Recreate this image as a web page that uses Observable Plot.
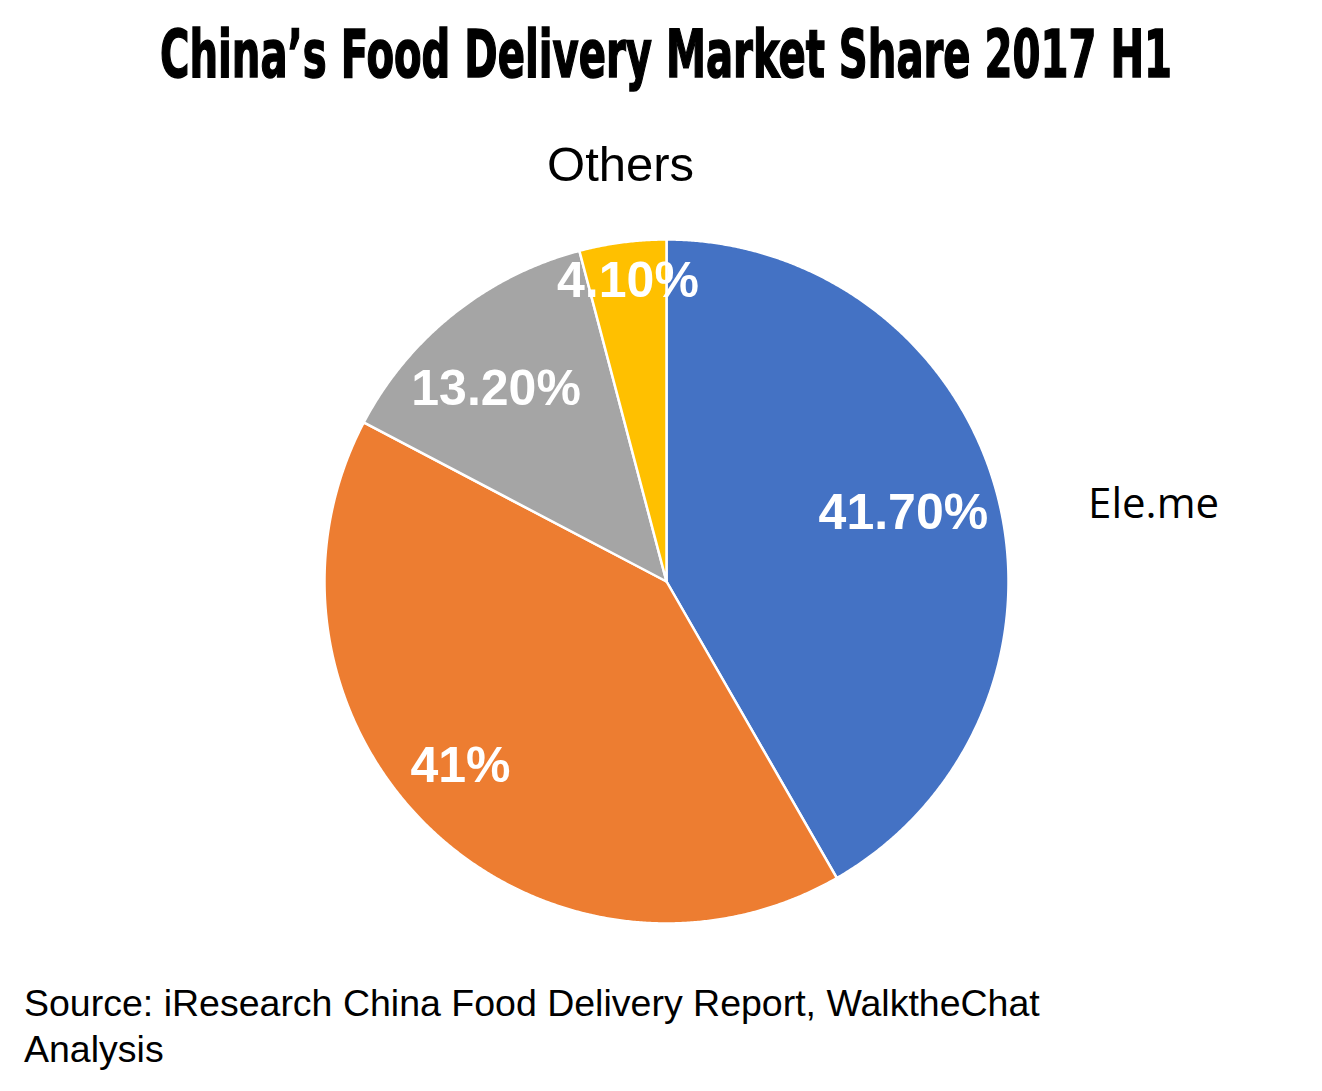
<!DOCTYPE html>
<html>
<head>
<meta charset="utf-8">
<script src="https://cdn.jsdelivr.net/npm/d3@7"></script>
<script src="https://cdn.jsdelivr.net/npm/@observablehq/plot@0.6"></script>
<style>
  body { margin: 0; background: #fff; width: 1322px; }
  #title { height: 88px; padding-top: 22px; position: relative; }
  #title span {
    position: absolute;
    left: 666px;
    top: 22px;
    font-family: "Liberation Sans Narrow", "DejaVu Sans Condensed", "DejaVu Sans", sans-serif;
    font-stretch: condensed;
    font-weight: 900;
    font-size: 66px;
    line-height: 66px;
    color: #000;
    -webkit-text-stroke: 1.5px #000;
    transform-origin: center;
    white-space: nowrap;
  }
  #graph svg { display: block; }
  #source {
    margin-top: 20px;
    padding-left: 24px;
    font-family: "Liberation Sans", Arial, sans-serif;
    font-size: 37.5px;
    line-height: 46px;
    color: #000;
    width: 1100px;
  }
</style>
</head>
<body>
<div id="title"><span id="title-text">China’s Food Delivery Market Share 2017 H1</span></div>
<div id="graph"></div>
<div id="source">Source: iResearch China Food Delivery Report, WalktheChat<br>Analysis</div>
<script>
// data
const companies = ["Ele.me", "Meituan", "Baidu Waimai", "Others"];
const shares = [41.7, 41.0, 13.2, 4.1];
const shareLabels = ["41.70%", "41%", "13.20%", "4.10%"];
const sliceColors = ["#4472C4", "#ED7D31", "#A5A5A5", "#FFC000"];
const namedSlices = ["Ele.me", "Others"];

// label placement, [radius as fraction of pie radius, angle in degrees clockwise from 12 o'clock]
const valueLabelPolar = [[0.721, 73.9], [0.808, 228.2], [0.752, 318.5], [0.887, 352.7]];
const nameLabelPolar = {"Ele.me": [1.442, 81.0], "Others": [1.224, 353.7]};

const rows = companies.map((c, i) => ({company: c, share: shares[i], label: shareLabels[i]}));
const arcs = d3.pie().sort(null).value(d => d.share)(rows);

// outline of every slice: centre, arc, back to centre
const slicePoints = [];
arcs.forEach(a => {
  const steps = Math.max(2, Math.ceil((a.endAngle - a.startAngle) / 0.005));
  slicePoints.push({company: a.data.company, x: 0, y: 0});
  for (let k = 0; k <= steps; k++) {
    const t = a.startAngle + (a.endAngle - a.startAngle) * k / steps;
    slicePoints.push({company: a.data.company, x: Math.sin(t), y: Math.cos(t)});
  }
  slicePoints.push({company: a.data.company, x: 0, y: 0});
});

const polar = ([r, deg]) => {
  const t = deg * Math.PI / 180;
  return {x: r * Math.sin(t), y: r * Math.cos(t)};
};

const valueLabels = rows.map((d, i) => ({...polar(valueLabelPolar[i]), text: d.label}));
const nameLabels = rows.filter(d => namedSlices.includes(d.company))
  .map(d => ({...polar(nameLabelPolar[d.company]), text: d.company}));

const chart = Plot.plot({
  width: 1322,
  height: 850,
  marginLeft: 324,
  marginRight: 314,
  marginTop: 129,
  marginBottom: 37,
  x: {domain: [-1, 1], axis: null},
  y: {domain: [-1, 1], axis: null},
  color: {domain: companies, range: sliceColors},
  style: {background: "white", fontFamily: "Liberation Sans, Arial, sans-serif", overflow: "visible"},
  marks: [
    Plot.line(slicePoints, {
      x: "x", y: "y", z: "company",
      fill: "company",
      stroke: "white",
      strokeWidth: 2.5,
      strokeLinejoin: "round"
    }),
    Plot.text(valueLabels, {
      x: "x", y: "y", text: "text",
      fill: "white",
      fontSize: 50,
      fontWeight: "bold",
      fontFamily: "Liberation Sans, Arial, sans-serif"
    }),
    Plot.text(nameLabels.filter(d => d.text === "Others"), {
      x: "x", y: "y", text: "text",
      fill: "black",
      fontSize: 49,
      fontFamily: "Liberation Sans, Arial, sans-serif"
    }),
    Plot.text(nameLabels.filter(d => d.text === "Ele.me"), {
      x: "x", y: "y", text: "text",
      fill: "black",
      fontSize: 42,
      fontFamily: "Open Sans, sans-serif"
    })
  ]
});

d3.select("#graph").append(() => chart);

// squeeze the title to the reference width, centred on the pie
const t = document.getElementById("title-text");
const w = t.getBoundingClientRect().width;
t.style.transform = `translateX(-50%) scaleX(${1012 / w})`;
</script>
</body>
</html>
